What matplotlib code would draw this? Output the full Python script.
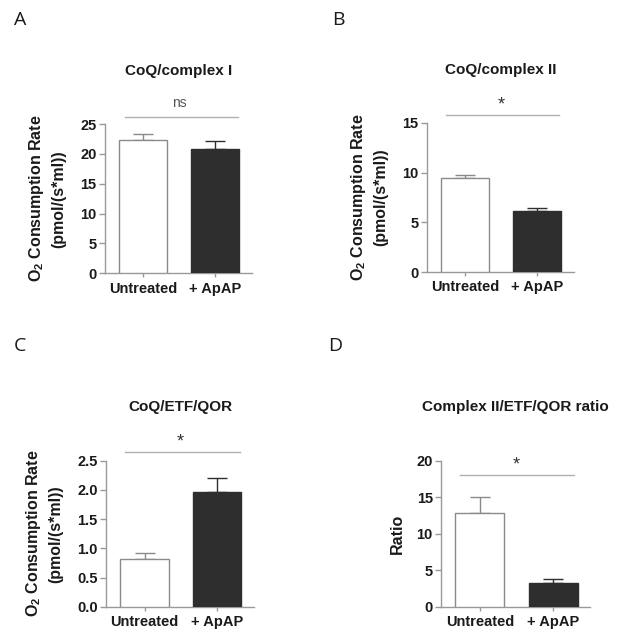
import matplotlib.pyplot as plt

plt.rcParams['font.family'] = ['Liberation Sans', 'DejaVu Sans']
plt.rcParams['mathtext.fontset'] = 'custom'
plt.rcParams['mathtext.rm'] = 'Liberation Sans'
plt.rcParams['mathtext.bf'] = 'Liberation Sans:bold'

groups = ['Untreated', '+ ApAP']

titles = ['CoQ/complex I', 'CoQ/complex II', 'CoQ/ETF/QOR', 'Complex II/ETF/QOR ratio']
letters = ['A', 'B', 'C', 'D']
means = [[22.4, 20.8], [9.44, 6.17], [0.81, 1.97], [12.85, 3.28]]
errs = [[1.0, 1.45], [0.34, 0.23], [0.11, 0.23], [2.25, 0.46]]
ymax = [25, 15, 2.5, 20]
yticks = [[0, 5, 10, 15, 20, 25], [0, 5, 10, 15], [0, 0.5, 1.0, 1.5, 2.0, 2.5], [0, 5, 10, 15, 20]]
ytick_labels = [['0', '5', '10', '15', '20', '25'], ['0', '5', '10', '15'],
                ['0.0', '0.5', '1.0', '1.5', '2.0', '2.5'], ['0', '5', '10', '15', '20']]
sig = ['ns', '*', '*', '*']
ylabels = ['$\\mathbf{O_2}$ Consumption Rate\n(pmol/(s*ml))'] * 3 + ['Ratio']

# axes boxes in figure fraction [left, bottom, width, height]
boxes = [[0.168, 0.573, 0.236, 0.233],
         [0.684, 0.575, 0.236, 0.233],
         [0.170, 0.052, 0.237, 0.228],
         [0.707, 0.052, 0.239, 0.228]]
# significance line (x0, x1 in data, y in axes fraction)
sig_x = [(-0.25, 1.32), (-0.27, 1.30), (-0.27, 1.32), (-0.27, 1.29)]
sig_y = [1.05, 1.05, 1.06, 0.905]
star_y = [1.14, 1.14, 1.15, 0.99]
title_y = [1.33, 1.33, 1.34, 1.34]
letter_pos = [(0.032, 0.968), (0.542, 0.968), (0.032, 0.46), (0.537, 0.46)]
labpad = [10, 10, 10, 8]

spine_c = '#999999'
dark = '#2e2e2e'

fig = plt.figure(figsize=(6.24, 6.4), dpi=100)

for i in range(4):
    ax = fig.add_axes(boxes[i])
    x = [0, 1]
    ax.bar(x, means[i], width=0.67, color=['white', dark],
           edgecolor=['#8a8a8a', dark], linewidth=1.0, zorder=3)
    for j in range(2):
        c = '#8a8a8a' if j == 0 else dark
        ax.errorbar(x[j], means[i][j], yerr=[[0], [errs[i][j]]], fmt='none',
                    ecolor=c, elinewidth=1.0, capsize=7, capthick=1.0, zorder=2)
    ax.set_xlim(-0.53, 1.51)
    ax.set_ylim(0, ymax[i])
    ax.set_yticks(yticks[i])
    ax.set_yticklabels(ytick_labels[i])
    ax.set_xticks(x)
    ax.set_xticklabels(groups)
    for s in ['top', 'right']:
        ax.spines[s].set_visible(False)
    for s in ['left', 'bottom']:
        ax.spines[s].set_color(spine_c)
        ax.spines[s].set_linewidth(1.0)
    ax.tick_params(axis='both', colors=spine_c, length=4, width=1.0, labelcolor='#1a1a1a',
                   labelsize=10.5)
    ax.tick_params(axis='y', pad=2)
    ax.tick_params(axis='x', length=3, pad=3)
    for lab in ax.get_xticklabels() + ax.get_yticklabels():
        lab.set_fontweight('bold')
    ax.set_ylabel(ylabels[i], fontsize=11.5, fontweight='bold', color='#1a1a1a',
                  labelpad=labpad[i], linespacing=1.45)
    ax.set_title(titles[i], fontsize=11, fontweight='bold', y=title_y[i], pad=0,
                 color='#1a1a1a')

    tr = ax.get_xaxis_transform()
    ax.plot(sig_x[i], [sig_y[i], sig_y[i]], color='#b0b0b0', lw=1.0,
            transform=tr, clip_on=False)
    if sig[i] == 'ns':
        ax.text(0.5, star_y[i], 'ns', transform=tr, ha='center', va='center',
                fontsize=10, color='#555555')
    else:
        ax.text(0.5, star_y[i] - 0.02, '*', transform=tr, ha='center', va='center',
                fontsize=13, color='#333333')

for i in range(4):
    fig.text(letter_pos[i][0], letter_pos[i][1], letters[i], fontsize=14,
             family='Open Sans', ha='center', va='center', color='#1a1a1a')

fig.savefig('out.png', dpi=100)
